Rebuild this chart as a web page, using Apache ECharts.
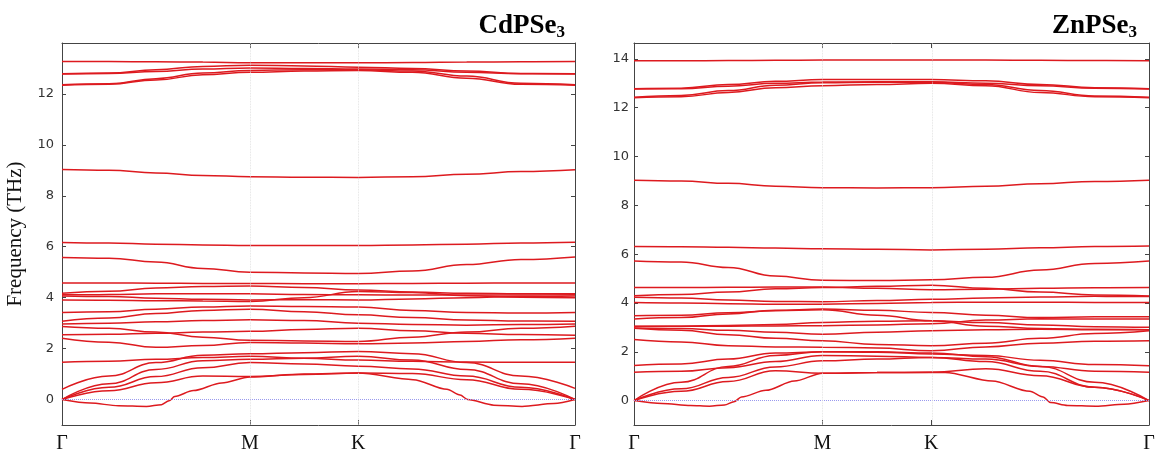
<!DOCTYPE html>
<html>
<head>
<meta charset="utf-8">
<script src="https://cdn.jsdelivr.net/npm/echarts@6/dist/echarts.min.js"></script>
<style>
  html, body { margin: 0; padding: 0; background: #fff; }
  #chart { width: 1164px; height: 466px; }
</style>
</head>
<body>
<div id="chart"></div>
<script>
// high-symmetry path G-M-K-G, distances in units of |GM|
const kTicks = [0, 1, 1.577, 2.732];
const kLabels = ['Γ', 'M', 'K', 'Γ'];
const kPath = [0, 0.25, 0.5, 0.75, 1, 1.289, 1.577, 1.866, 2.155, 2.444, 2.732];

const cdTicks = [0, 2, 4, 6, 8, 10, 12];
const znTicks = [0, 2, 4, 6, 8, 10, 12, 14];

// CdPSe3 bands, sampled on kPath
const cdBands = [
  [13.27, 13.27, 13.26, 13.25, 13.22, 13.22, 13.22, 13.23, 13.25, 13.26, 13.27],
  [12.79, 12.82, 12.95, 13.08, 13.13, 13.10, 13.05, 13.00, 12.90, 12.80, 12.79],
  [12.78, 12.80, 12.88, 12.98, 13.02, 13.00, 12.98, 12.95, 12.85, 12.79, 12.78],
  [12.36, 12.40, 12.60, 12.82, 12.92, 12.95, 12.95, 12.90, 12.70, 12.42, 12.36],
  [12.34, 12.38, 12.55, 12.75, 12.85, 12.90, 12.92, 12.85, 12.62, 12.38, 12.34],
  [9.03, 9.00, 8.90, 8.80, 8.75, 8.73, 8.72, 8.75, 8.85, 8.95, 9.02],
  [6.17, 6.15, 6.10, 6.07, 6.05, 6.05, 6.05, 6.07, 6.10, 6.15, 6.18],
  [5.58, 5.55, 5.40, 5.15, 5.00, 4.97, 4.95, 5.05, 5.30, 5.50, 5.60],
  [4.58, 4.58, 4.57, 4.56, 4.56, 4.55, 4.55, 4.56, 4.57, 4.58, 4.58],
  [4.17, 4.25, 4.38, 4.44, 4.46, 4.40, 4.30, 4.22, 4.17, 4.15, 4.15],
  [4.11, 4.12, 4.15, 4.15, 4.15, 4.12, 4.11, 4.10, 4.10, 4.10, 4.11],
  [4.07, 4.05, 3.98, 3.94, 3.91, 3.92, 3.91, 3.95, 4.00, 4.05, 4.07],
  [3.91, 3.90, 3.88, 3.87, 3.85, 4.00, 4.24, 4.20, 4.08, 4.02, 4.00],
  [3.42, 3.45, 3.55, 3.63, 3.67, 3.65, 3.63, 3.50, 3.42, 3.40, 3.42],
  [3.07, 3.20, 3.38, 3.50, 3.55, 3.45, 3.33, 3.22, 3.12, 3.08, 3.07],
  [2.97, 3.00, 3.05, 3.10, 3.13, 3.10, 3.00, 2.95, 2.92, 2.95, 2.97],
  [2.87, 2.80, 2.65, 2.45, 2.33, 2.30, 2.28, 2.45, 2.65, 2.80, 2.88],
  [2.54, 2.56, 2.60, 2.65, 2.68, 2.75, 2.80, 2.70, 2.60, 2.55, 2.52],
  [2.41, 2.25, 2.05, 2.12, 2.24, 2.22, 2.19, 2.22, 2.28, 2.35, 2.41],
  [1.46, 1.50, 1.58, 1.65, 1.70, 1.62, 1.55, 1.50, 1.47, 1.46, 1.46],
  [0.40, 0.92, 1.45, 1.74, 1.80, 1.84, 1.89, 1.80, 1.45, 0.92, 0.44],
  [0.00, 0.62, 1.18, 1.52, 1.58, 1.62, 1.70, 1.55, 1.18, 0.62, 0.00],
  [0.00, 0.48, 0.90, 1.25, 1.45, 1.40, 1.31, 1.20, 0.92, 0.48, 0.00],
  [0.00, 0.34, 0.66, 0.92, 0.90, 0.98, 1.04, 1.02, 0.78, 0.40, 0.00]
];
// flexural (ZA) branch with the small negative pockets
const cdZaK = [0, 0.15, 0.3, 0.45, 0.53, 0.57, 0.6, 0.7, 0.85, 1.0, 1.289, 1.577, 1.87, 2.05, 2.12, 2.16, 2.3, 2.45, 2.62, 2.732];
const cdZa = [0, -0.14, -0.24, -0.27, -0.2, -0.05, 0.12, 0.35, 0.65, 0.88, 1.0, 1.04, 0.78, 0.4, 0.18, 0.0, -0.22, -0.27, -0.16, 0];

// ZnPSe3 bands, sampled on kPath
const znBands = [
  [13.92, 13.92, 13.93, 13.94, 13.95, 13.95, 13.95, 13.95, 13.94, 13.93, 13.92],
  [12.78, 12.80, 12.95, 13.08, 13.15, 13.15, 13.15, 13.10, 12.95, 12.82, 12.78],
  [12.77, 12.78, 12.88, 13.00, 13.05, 13.06, 13.06, 13.00, 12.90, 12.80, 12.77],
  [12.43, 12.50, 12.70, 12.92, 13.02, 13.04, 13.04, 12.95, 12.70, 12.48, 12.43],
  [12.41, 12.45, 12.62, 12.82, 12.90, 12.95, 13.00, 12.90, 12.62, 12.45, 12.41],
  [9.03, 9.00, 8.90, 8.78, 8.72, 8.71, 8.72, 8.78, 8.88, 8.98, 9.03],
  [6.31, 6.30, 6.28, 6.25, 6.22, 6.20, 6.17, 6.20, 6.26, 6.31, 6.33],
  [5.72, 5.68, 5.45, 5.10, 4.93, 4.92, 4.95, 5.05, 5.35, 5.62, 5.72],
  [4.63, 4.63, 4.64, 4.65, 4.65, 4.60, 4.54, 4.56, 4.60, 4.62, 4.63],
  [4.30, 4.35, 4.45, 4.58, 4.63, 4.68, 4.73, 4.60, 4.45, 4.33, 4.29],
  [4.23, 4.20, 4.12, 4.06, 4.05, 4.10, 4.15, 4.20, 4.24, 4.27, 4.26],
  [4.02, 4.00, 3.97, 3.95, 3.95, 3.98, 4.02, 4.03, 4.03, 4.02, 4.02],
  [3.48, 3.50, 3.60, 3.68, 3.72, 3.50, 3.27, 3.05, 2.95, 2.92, 2.90],
  [3.34, 3.40, 3.55, 3.70, 3.75, 3.70, 3.61, 3.50, 3.40, 3.43, 3.43],
  [3.05, 3.05, 3.05, 3.06, 3.07, 3.10, 3.15, 3.30, 3.35, 3.34, 3.34],
  [3.04, 3.05, 3.08, 3.12, 3.20, 3.25, 3.27, 3.20, 3.10, 3.03, 3.00],
  [2.97, 2.95, 2.88, 2.80, 2.72, 2.80, 2.86, 2.90, 2.92, 2.90, 2.90],
  [2.96, 2.88, 2.70, 2.55, 2.45, 2.30, 2.25, 2.35, 2.55, 2.75, 2.86],
  [2.50, 2.40, 2.25, 2.20, 2.19, 2.15, 2.04, 2.20, 2.35, 2.43, 2.45],
  [1.44, 1.50, 1.70, 1.95, 2.00, 1.98, 1.91, 1.85, 1.65, 1.48, 1.43],
  [1.16, 1.20, 1.35, 1.60, 1.85, 1.82, 1.77, 1.70, 1.40, 1.20, 1.16],
  [0.00, 0.75, 1.40, 1.85, 2.00, 2.00, 1.95, 1.80, 1.40, 0.75, 0.00],
  [0.00, 0.48, 0.95, 1.38, 1.63, 1.70, 1.77, 1.60, 1.20, 0.55, 0.00],
  [0.00, 0.38, 0.78, 1.22, 1.12, 1.15, 1.16, 1.30, 1.02, 0.55, 0.00]
];
const znZaK = [0, 0.15, 0.3, 0.4, 0.48, 0.53, 0.57, 0.7, 0.85, 1.0, 1.289, 1.577, 1.65, 1.9, 2.1, 2.17, 2.21, 2.3, 2.45, 2.6, 2.732];
const znZa = [0, -0.12, -0.2, -0.23, -0.18, -0.05, 0.15, 0.42, 0.8, 1.12, 1.15, 1.16, 1.15, 0.8, 0.38, 0.15, -0.08, -0.2, -0.23, -0.15, 0];

const chart = echarts.init(document.getElementById('chart'));

const red = '#dd1a1f';
const frame = '#444';
const serif = '"Liberation Serif", "DejaVu Serif", serif';

function bandSeries(bands, zaK, za, idx) {
  const list = bands.map(b => ({
    type: 'line',
    xAxisIndex: idx * 2,
    yAxisIndex: idx * 2,
    data: b.map((v, i) => [kPath[i], v]),
    smooth: 0.45,
    smoothMonotone: 'x',
    showSymbol: false,
    silent: true,
    lineStyle: { color: red, width: 1.5 }
  }));
  list.push({
    type: 'line',
    xAxisIndex: idx * 2,
    yAxisIndex: idx * 2,
    data: za.map((v, i) => [zaK[i], v]),
    smooth: 0.3,
    smoothMonotone: 'x',
    showSymbol: false,
    silent: true,
    lineStyle: { color: red, width: 1.5 },
    markLine: {
      silent: true,
      symbol: 'none',
      label: { show: false },
      data: [
        { yAxis: 0, lineStyle: { color: '#9a9aee', type: 'dotted', width: 1 } },
        { xAxis: kTicks[1], lineStyle: { color: '#dcdcdc', type: 'dotted', width: 0.8 } },
        { xAxis: kTicks[2], lineStyle: { color: '#dcdcdc', type: 'dotted', width: 0.8 } }
      ]
    }
  });
  return list;
}

function kAxes(gridIndex) {
  return [
    {
      type: 'value', gridIndex: gridIndex, min: 0, max: 2.732, position: 'bottom',
      splitLine: { show: false },
      axisLine: { onZero: false, lineStyle: { color: frame, width: 1 } },
      axisTick: { inside: true, length: 5, customValues: [kTicks[1], kTicks[2]], lineStyle: { color: frame } },
      axisLabel: {
        customValues: kTicks, margin: 9, showMinLabel: true, showMaxLabel: true,
        color: '#111', fontFamily: serif, fontSize: 20,
        formatter: v => kLabels[kTicks.findIndex(t => Math.abs(t - v) < 1e-6)]
      }
    },
    {
      type: 'value', gridIndex: gridIndex, min: 0, max: 2.732, position: 'top',
      splitLine: { show: false },
      axisLine: { onZero: false, lineStyle: { color: frame, width: 1 } },
      axisTick: { inside: true, length: 5, customValues: [kTicks[1], kTicks[2]], lineStyle: { color: frame } },
      axisLabel: { show: false }
    }
  ];
}

function fAxes(gridIndex, max, ticks, named) {
  return [
    {
      type: 'value', gridIndex: gridIndex, min: -1, max: max, position: 'left',
      splitLine: { show: false },
      axisLine: { onZero: false, lineStyle: { color: frame, width: 1 } },
      axisTick: { inside: true, length: 4, customValues: ticks, lineStyle: { color: frame } },
      axisLabel: {
        customValues: ticks, margin: named ? 8 : 5,
        color: '#333', fontFamily: '"DejaVu Sans", sans-serif', fontSize: 13
      },
      name: named ? 'Frequency (THz)' : '',
      nameLocation: 'middle',
      nameGap: 36,
      nameTextStyle: { fontFamily: serif, fontSize: 21, color: '#111' }
    },
    {
      type: 'value', gridIndex: gridIndex, min: -1, max: max, position: 'right',
      splitLine: { show: false },
      axisLine: { onZero: false, lineStyle: { color: frame, width: 1 } },
      axisTick: { inside: true, length: 4, customValues: ticks, lineStyle: { color: frame } },
      axisLabel: { show: false }
    }
  ];
}

const titleRich = {
  b: { fontFamily: serif, fontWeight: 'bold', fontSize: 27, color: '#000', lineHeight: 30 },
  s: { fontFamily: serif, fontWeight: 'bold', fontSize: 17, color: '#000', lineHeight: 30, verticalAlign: 'bottom', padding: [12, 0, 0, 0] }
};

chart.setOption({
  animation: false,
  backgroundColor: '#fff',
  title: [
    { text: '{b|CdPSe}{s|3}', right: 594, top: 6, textStyle: { rich: titleRich } },
    { text: '{b|ZnPSe}{s|3}', right: 22, top: 6, textStyle: { rich: titleRich } }
  ],
  grid: [
    { left: 62, top: 43, width: 513, height: 382 },
    { left: 634, top: 43, width: 515, height: 382 }
  ],
  xAxis: kAxes(0).concat(kAxes(1)),
  yAxis: fAxes(0, 14, cdTicks, true).concat(fAxes(1, 14.65, znTicks, false)),
  series: bandSeries(cdBands, cdZaK, cdZa, 0).concat(bandSeries(znBands, znZaK, znZa, 1))
});
</script>
</body>
</html>
